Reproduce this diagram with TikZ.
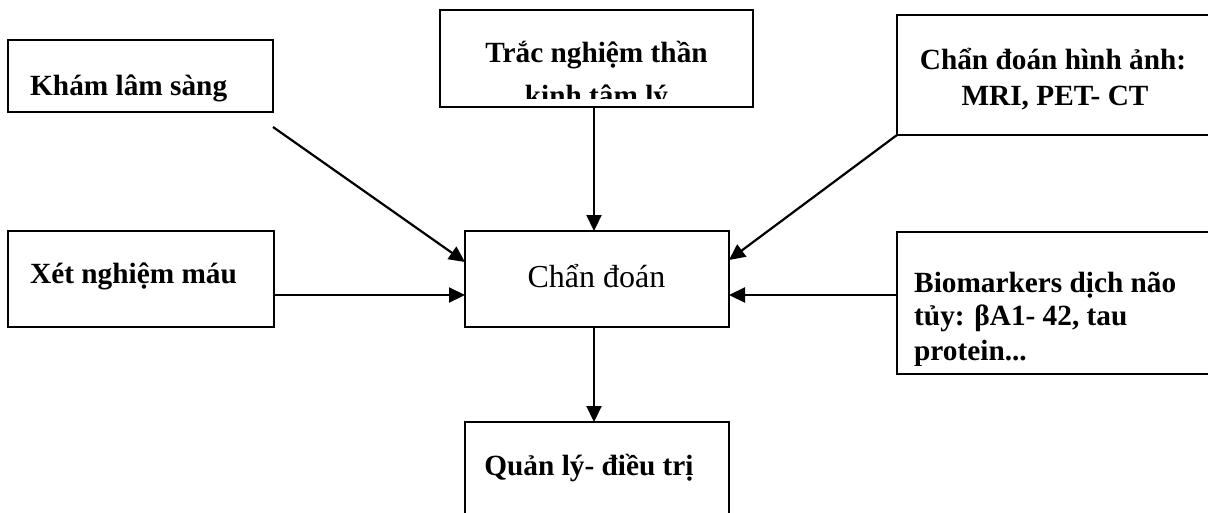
\documentclass[tikz,border=0pt]{standalone}
\usepackage{fontspec}
\setmainfont{Liberation Serif}
\usetikzlibrary{calc,arrows.meta}
\begin{document}
\begin{tikzpicture}[x=1pt,y=-1pt,
  box/.style={draw, rectangle, line width=2.2pt, inner sep=0pt, outer sep=0pt},
  lbl/.style={inner sep=0pt, font=\bfseries\fontsize{29.3}{35}\selectfont},
  plain/.style={inner sep=0pt, font=\fontsize{32}{38}\selectfont},
  link/.style={line width=2.2pt, -{Triangle[length=16pt,width=15pt]}}]
\useasboundingbox (0,0) rectangle (1208,512);

% boxes
\node[box, minimum width=265pt, minimum height=72pt]  (kls)  at (140.5,76)   {};
\node[box, minimum width=313pt, minimum height=97pt]  (tn)   at (596.5,58.5) {};
\node[box, minimum width=313pt, minimum height=120pt] (cdha) at (1053.5,75)  {};
\node[box, minimum width=266pt, minimum height=96pt]  (xn)   at (141,279)    {};
\node[box, minimum width=264pt, minimum height=96pt]  (cd)   at (597,279)    {};
\node[box, minimum width=313pt, minimum height=142pt] (bm)   at (1053.5,303) {};
\node[box, minimum width=264pt, minimum height=100pt] (ql)   at (597,472)    {};

% box texts
\node[lbl, anchor=base west] (klsT) at (30,95) {Khám lâm sàng};
\begin{scope}
  \clip (441,11) rectangle (752,98);
  \node[lbl, anchor=base] (tnA) at (596.5,62)  {Trắc nghiệm thần};
  \node[lbl, anchor=base] (tnB) at (596.5,105) {kinh tâm lý};
\end{scope}
\node[lbl, anchor=base] (cdhaA) at (1053,69)  {Chẩn đoán hình ảnh:};
\node[lbl, anchor=base] (cdhaB) at (1055,105) {MRI, PET- CT};
\node[lbl, anchor=base west] (xnT) at (30,283) {Xét nghiệm máu};
\node[plain, anchor=base] (cdT) at (596.5,287) {Chẩn đoán};
\begin{scope}
  \clip (898,233) rectangle (1208,365);
  \node[lbl, anchor=base west] (bmA) at (914,292) {Biomarkers dịch não};
  \node[lbl, anchor=base west] (bmB) at (914,325) {tủy: βA1- 42, tau};
  \node[lbl, anchor=base west] (bmC) at (914,360) {protein...};
\end{scope}
\node[lbl, anchor=base] (qlT) at (589,475) {Quản lý- điều trị};

% connectors
\coordinate (vx) at (594,0);
\coordinate (hy) at (0,295);
\coordinate (klsOut) at ($(kls.south east)+(0,15)$);
\draw[link] (klsOut) -- ($(cd.north west)+(0,31)$);
\draw[link] (tn.south -| vx) -- (cd.north -| vx);
\draw[link] (cdha.south west) -- ($(cd.north east)+(0,29)$);
\draw[link] (xn.east |- hy) -- (cd.west |- hy);
\draw[link] (bm.west |- hy) -- (cd.east |- hy);
\draw[link] (cd.south -| vx) -- (ql.north -| vx);
\end{tikzpicture}
\end{document}
